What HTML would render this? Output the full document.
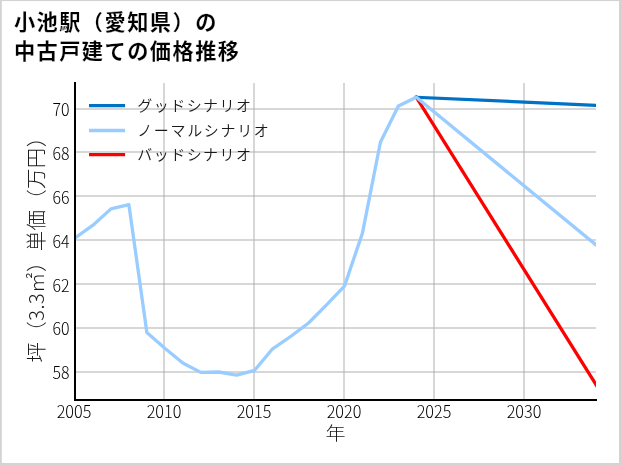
<!DOCTYPE html>
<html lang="ja"><head><meta charset="utf-8"><title>小池駅（愛知県）の中古戸建ての価格推移</title>
<style>html,body{margin:0;padding:0;background:#fff}body{width:621px;height:465px;overflow:hidden}svg{display:block}text{font-family:"Liberation Sans","Noto Sans CJK JP",sans-serif}.l{font-weight:350}.t{font-weight:300;font-family:"Noto Sans CJK JP","Liberation Sans",sans-serif}</style></head><body>
<svg width="621" height="465" viewBox="0 0 621 465">
<rect x="0" y="0" width="621" height="465" fill="#d3d3d3"/>
<rect x="1.8" y="1.05" width="617.2" height="461.95" fill="#fff"/>
<text x="13.9" y="30.1" letter-spacing="1.47" font-size="21.2" font-weight="700" fill="#000" stroke="#fff" stroke-width="0.15">小池駅（愛知県）の</text>
<text x="13.9" y="58.95" letter-spacing="1.47" font-size="21.2" font-weight="700" fill="#000" stroke="#fff" stroke-width="0.15">中古戸建ての価格推移</text>
<g stroke="#b0b0b0" stroke-opacity="0.5" stroke-width="2"><line x1="164" y1="83.00" x2="164" y2="400.00"/><line x1="254" y1="83.00" x2="254" y2="400.00"/><line x1="344" y1="83.00" x2="344" y2="400.00"/><line x1="434" y1="83.00" x2="434" y2="400.00"/><line x1="524" y1="83.00" x2="524" y2="400.00"/><line x1="75" y1="109" x2="596" y2="109"/><line x1="75" y1="152" x2="596" y2="152"/><line x1="75" y1="196" x2="596" y2="196"/><line x1="75" y1="240" x2="596" y2="240"/><line x1="75" y1="284" x2="596" y2="284"/><line x1="75" y1="328" x2="596" y2="328"/><line x1="75" y1="372" x2="596" y2="372"/></g>
<clipPath id="c"><rect x="75" y="83.00" width="521" height="317.00"/></clipPath>
<g clip-path="url(#c)" fill="none" stroke-width="3.3" stroke-linejoin="round" stroke-linecap="square">
<polyline stroke="#0072c6" points="416.34,97.30 596.00,105.30 601.39,105.54"/>
<polyline stroke="#ff0000" points="416.34,97.30 596.00,384.70 601.39,393.32"/>
<polyline stroke="#99ccff" points="75.00,238.00 92.97,225.20 110.93,208.90 128.90,204.70 146.86,332.50 164.83,348.30 182.79,363.00 200.76,372.40 218.72,372.00 236.69,375.10 254.66,370.30 272.62,348.80 290.59,336.50 308.55,323.00 326.52,304.80 344.48,286.10 362.45,233.10 380.41,142.30 398.38,106.00 416.34,97.30 596.00,244.90 601.39,249.33"/>
</g>
<line x1="75" y1="82.00" x2="75" y2="401" stroke="#000" stroke-width="2"/>
<line x1="74" y1="400" x2="597" y2="400" stroke="#000" stroke-width="2"/>
<text class="t" transform="translate(74.00,418.2) scale(0.95,1)" font-size="17.1" text-anchor="middle" fill="#000">2005</text>
<text class="t" transform="translate(164.00,418.2) scale(0.95,1)" font-size="17.1" text-anchor="middle" fill="#000">2010</text>
<text class="t" transform="translate(254.00,418.2) scale(0.95,1)" font-size="17.1" text-anchor="middle" fill="#000">2015</text>
<text class="t" transform="translate(344.00,418.2) scale(0.95,1)" font-size="17.1" text-anchor="middle" fill="#000">2020</text>
<text class="t" transform="translate(434.00,418.2) scale(0.95,1)" font-size="17.1" text-anchor="middle" fill="#000">2025</text>
<text class="t" transform="translate(524.00,418.2) scale(0.95,1)" font-size="17.1" text-anchor="middle" fill="#000">2030</text>
<text class="t" transform="translate(69.5,116.25) scale(0.95,1)" font-size="16.8" text-anchor="end" fill="#000">70</text>
<text class="t" transform="translate(69.5,160.08) scale(0.95,1)" font-size="16.8" text-anchor="end" fill="#000">68</text>
<text class="t" transform="translate(69.5,203.92) scale(0.95,1)" font-size="16.8" text-anchor="end" fill="#000">66</text>
<text class="t" transform="translate(69.5,247.75) scale(0.95,1)" font-size="16.8" text-anchor="end" fill="#000">64</text>
<text class="t" transform="translate(69.5,291.59) scale(0.95,1)" font-size="16.8" text-anchor="end" fill="#000">62</text>
<text class="t" transform="translate(69.5,335.42) scale(0.95,1)" font-size="16.8" text-anchor="end" fill="#000">60</text>
<text class="t" transform="translate(69.5,379.25) scale(0.95,1)" font-size="16.8" text-anchor="end" fill="#000">58</text>
<text class="t" transform="translate(335.5,439.9) scale(1.03,0.95)" font-size="19.5" text-anchor="middle" fill="#1a1a1a">年</text>
<text class="t" transform="translate(43.5,244.5) rotate(-90)" font-size="20.5" letter-spacing="0.3" text-anchor="middle" fill="#1a1a1a">坪（3.3㎡）単価（万円）</text>
<line x1="89" y1="105.65" x2="125.1" y2="105.65" stroke="#0072c6" stroke-width="3.3"/>
<text class="l" x="137.2" y="111.35" font-size="15" letter-spacing="1.48" fill="#1a1a1a">グッドシナリオ</text>
<line x1="89" y1="130.50" x2="125.1" y2="130.50" stroke="#99ccff" stroke-width="3.3"/>
<text class="l" x="137.2" y="135.85" font-size="15" letter-spacing="1.66" fill="#1a1a1a">ノーマルシナリオ</text>
<line x1="89" y1="154.65" x2="125.1" y2="154.65" stroke="#ff0000" stroke-width="3.3"/>
<text class="l" x="137.2" y="159.85" font-size="15" letter-spacing="1.48" fill="#1a1a1a">バッドシナリオ</text>
</svg></body></html>
